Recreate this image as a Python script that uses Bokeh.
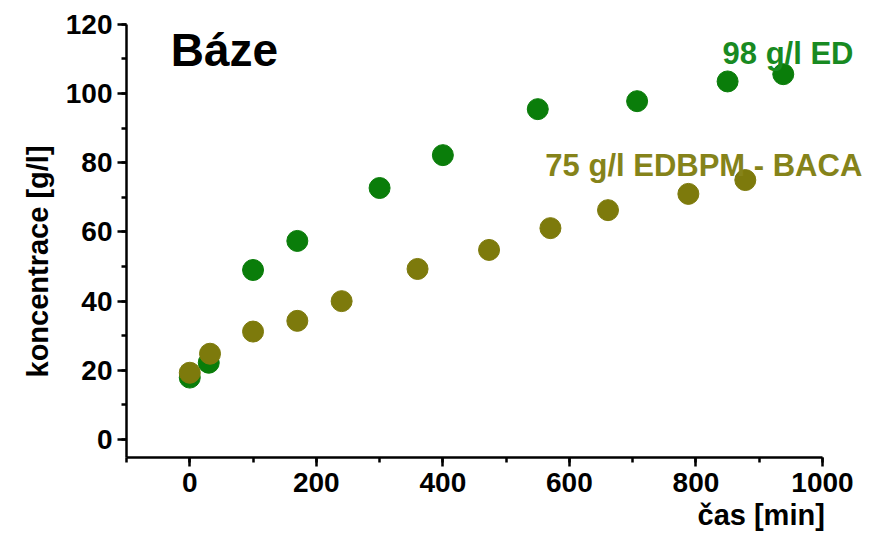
import math
from bokeh.plotting import figure
from bokeh.models import Range1d, SingleIntervalTicker, Label, ColumnDataSource, Title
from bokeh.embed import file_html
from bokeh.resources import INLINE

# time [min] and concentration [g/l] for the two runs
ed_time = [0, 30, 100, 170, 300, 400, 550, 707, 850, 938]
ed_conc = [17.9, 22.2, 49.0, 57.4, 72.7, 82.2, 95.5, 97.8, 103.5, 105.6]

baca_time = [0, 32, 100, 170, 240, 360, 473, 570, 661, 788, 878]
baca_conc = [19.3, 24.8, 31.2, 34.3, 40.0, 49.3, 54.8, 61.1, 66.3, 71.0, 75.0]

GREEN = "#0a7d0a"
OLIVE = "#7d7a0c"
FONT = "Liberation Sans"

# axes run over (-100, 1000) and (-5.2, 120); the plotting area is a bit larger
# so that the annotations on the right and at the top have room
X_AXIS = (-100, 1000)
Y_AXIS = (-5.2, 120)

p = figure(width=883, height=535, output_backend="svg", toolbar_location=None,
           x_range=Range1d(-100, 1096.4), y_range=Range1d(-5.2, 126.9),
           min_border_left=126, min_border_right=0,
           min_border_top=0, min_border_bottom=78)
p.outline_line_color = None
p.xgrid.visible = False
p.ygrid.visible = False
p.background_fill_color = "white"
p.border_fill_color = "white"

p.xaxis.ticker = SingleIntervalTicker(interval=200, num_minor_ticks=2)
p.yaxis.ticker = SingleIntervalTicker(interval=20, num_minor_ticks=2)
p.xaxis.bounds = X_AXIS
p.yaxis.bounds = Y_AXIS

for ax in (p.xaxis[0], p.yaxis[0]):
    ax.axis_line_width = 2.5
    ax.axis_line_color = "black"
    ax.major_tick_line_width = 2.5
    ax.minor_tick_line_width = 2.5
    ax.major_tick_line_color = "black"
    ax.minor_tick_line_color = "black"
    ax.major_tick_out = 9
    ax.major_tick_in = 0
    ax.minor_tick_out = 5
    ax.minor_tick_in = 0
    ax.major_label_text_font = FONT
    ax.major_label_text_font_style = "bold"
    ax.major_label_text_font_size = "28px"
    ax.major_label_text_color = "black"
p.xaxis.major_label_standoff = 6
p.yaxis.major_label_standoff = 5

ed = ColumnDataSource(dict(t=ed_time, c=ed_conc))
baca = ColumnDataSource(dict(t=baca_time, c=baca_conc))
p.scatter("t", "c", source=ed, size=21, fill_color=GREEN, line_color=GREEN)
p.scatter("t", "c", source=baca, size=21, fill_color=OLIVE, line_color=OLIVE)

def add_text(x, y, text, size, color="black"):
    p.add_layout(Label(x=x, y=y, text=text, text_font=FONT, text_font_style="bold",
                       text_font_size=size, text_color=color,
                       text_align="left", text_baseline="alphabetic"))

add_text(-30, 112.5, "Báze", "46px")
add_text(842, 111.6, "98 g/l ED", "31px", color="#188a22")
add_text(562, 79.2, "75 g/l EDBPM - BACA", "31px", color="#85831a")

# axis titles
p.add_layout(Title(text="čas [min]", align="left", offset=571, standoff=5,
                   text_font=FONT, text_font_style="bold", text_font_size="29px",
                   text_color="black"), "below")
p.add_layout(Title(text="koncentrace [g/l]", align="left", offset=80, standoff=18,
                   text_font=FONT, text_font_style="bold", text_font_size="29px",
                   text_color="black"), "left")

open("out.html", "w").write(file_html(p, INLINE))
